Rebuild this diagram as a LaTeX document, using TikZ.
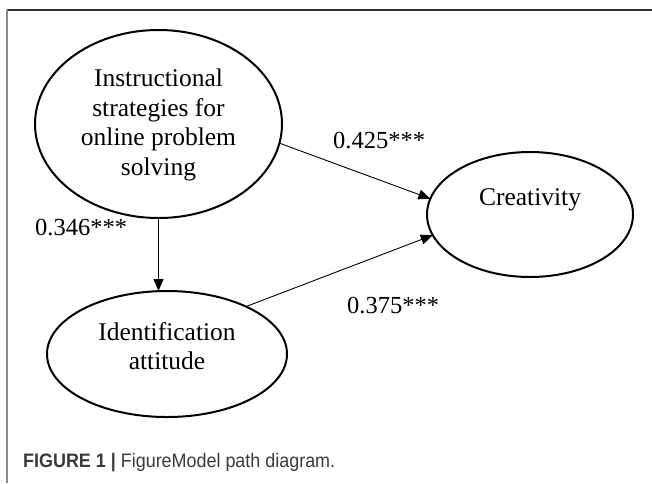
\documentclass[tikz,border=0pt]{standalone}
\usepackage{fontspec}
\setmainfont{Liberation Serif}
\newfontfamily\capfont{Liberation Sans}
\usetikzlibrary{shapes.geometric,arrows.meta}
\definecolor{framegray}{HTML}{333333}
\definecolor{sidegray}{HTML}{8A8A8A}
\definecolor{captext}{HTML}{3A3A3A}
\begin{document}
\begin{tikzpicture}[x=1pt,y=-1pt,
  ell/.style={draw, ellipse, line width=2pt, inner sep=0pt, outer sep=0pt},
  lbl/.style={font=\fontsize{25.5}{29.5}\selectfont, align=center, inner sep=0pt},
  coef/.style={font=\fontsize{24.5}{28}\selectfont, inner sep=0pt, anchor=base west},
  arr/.style={-{Triangle[length=12pt,width=10pt]}, line width=0.9pt}]
\useasboundingbox (0,0) rectangle (652,483);
% frame
\draw[line width=1.5pt, framegray] (6.5,10) -- (652,10);
\draw[line width=2pt, sidegray] (7,10) -- (7,483);
% ellipses
\node[ell, minimum width=247pt, minimum height=188pt] (top) at (158.5,124) {};
\node[ell, minimum width=240pt, minimum height=126pt] (ident) at (167,354) {};
\node[ell, minimum width=206pt, minimum height=125pt] (cre) at (530,214.5) {};
% texts
\node[lbl] (toptext) at (158.5,125) {Instructional\\strategies for\\online problem\\solving};
\node[lbl] (identtext) at (167,346) {Identification\\attitude};
\node[lbl] (cretext) at (530,200) {Creativity};
% arrows
\draw[arr] (top.-9) -- (cre.171);
\draw[arr] (ident.31) -- (cre.192);
\draw[arr] (top.south) -- (top.south |- ident.north);
% coefficients
\node[coef] (c1) at (333,148) {0.425***};
\node[coef] (c2) at (347,313) {0.375***};
\node[coef] (c3) at (35,235) {0.346***};
% caption
\node[anchor=base west, inner sep=0pt, text=captext, font=\capfont\fontsize{19.5}{22}\selectfont] (cap) at (23,467)
  {\resizebox{312pt}{\height}{\textbf{FIGURE 1 |} FigureModel path diagram.}};
\end{tikzpicture}
\end{document}
